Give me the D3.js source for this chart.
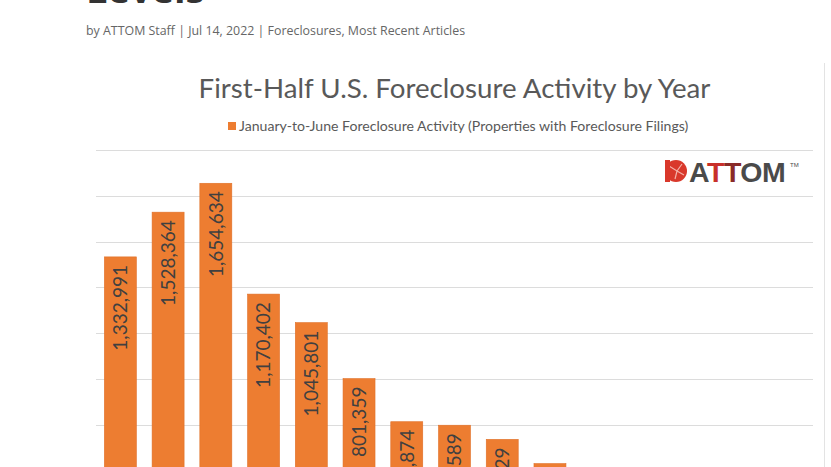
<!DOCTYPE html>
<html>
<head>
<meta charset="utf-8">
<title>First-Half U.S. Foreclosure Activity by Year</title>
<script src="https://cdn.jsdelivr.net/npm/d3@7"></script>
<style>
  html, body { margin: 0; padding: 0; background: #fff; }
  svg { display: block; }
</style>
</head>
<body>
<div id="viz"></div>
<script>
// first-half (Jan-Jun) foreclosure filings, 2008-2022
const years = ["2008", "2009", "2010", "2011", "2012", "2013", "2014", "2015",
               "2016", "2017", "2018", "2019", "2020", "2021", "2022"];
const filings = [1332991, 1528364, 1654634, 1170402, 1045801, 801359, 612874, 597589,
                 535829, 430000, 378000, 302000, 147000, 65000, 164581];
const gridTicks = d3.range(0, 1800001, 200000);

const W = 831, H = 467;
const svg = d3.select("#viz").append("svg")
  .attr("width", W).attr("height", H);

svg.append("rect").attr("width", W).attr("height", H).attr("fill", "#fff");

// page header (cut off at top)
svg.append("text")
  .attr("x", 86).attr("y", 3)
  .attr("font-family", "Open Sans").attr("font-weight", 700)
  .attr("font-size", 38).attr("fill", "#333")
  .text("Levels");

svg.append("text")
  .attr("x", 86).attr("y", 35)
  .attr("font-family", "Open Sans").attr("font-size", 12.4)
  .attr("fill", "#666")
  .text("by ATTOM Staff | Jul 14, 2022 | Foreclosures, Most Recent Articles");

// image frame edge
svg.append("line")
  .attr("x1", 824.5).attr("x2", 824.5).attr("y1", 63).attr("y2", H)
  .attr("stroke", "#e3e3e3");

const x = d3.scaleBand().domain(years).range([96.5, 812.5])
  .paddingInner(0.33).paddingOuter(0.165);
const y = d3.scaleLinear().domain([0, 1800000]).range([562, 150]);

// gridlines
svg.append("g").selectAll("line").data(gridTicks).join("line")
  .attr("x1", 96).attr("x2", 813)
  .attr("y1", d => Math.round(y(d)) + 0.5).attr("y2", d => Math.round(y(d)) + 0.5)
  .attr("stroke", "#dcdcdc");

// title + legend
svg.append("text")
  .attr("x", 454.5).attr("y", 97.5).attr("text-anchor", "middle")
  .attr("font-family", "Lato").attr("font-size", 27.7).attr("fill", "#595959")
  .text("First-Half U.S. Foreclosure Activity by Year");

svg.append("rect").attr("x", 228).attr("y", 122).attr("width", 8).attr("height", 8)
  .attr("fill", "#ed7d31");
svg.append("text")
  .attr("x", 239).attr("y", 131)
  .attr("font-family", "Lato").attr("font-size", 14.1).attr("fill", "#595959")
  .text("January-to-June Foreclosure Activity (Properties with Foreclosure Filings)");

// bars
svg.append("g").selectAll("rect").data(filings).join("rect")
  .attr("x", (d, i) => x(years[i]))
  .attr("y", d => y(d))
  .attr("width", x.bandwidth())
  .attr("height", d => y(0) - y(d))
  .attr("fill", "#ed7d31")
  .attr("stroke", "#e07028").attr("stroke-width", 0.6);

// value labels
const fmt = d3.format(",");
svg.append("g").selectAll("text").data(filings).join("text")
  .attr("transform", (d, i) =>
    `translate(${x(years[i]) + x.bandwidth() / 2},${y(d) + 8}) rotate(-90)`)
  .attr("dy", "0.36em")
  .attr("text-anchor", "end")
  .attr("font-family", "Lato").attr("font-size", 19)
  .attr("fill", "#404040")
  .text(d => fmt(d));

// ATTOM logo
const logo = svg.append("g").attr("transform", "translate(665,160)");
logo.append("circle").attr("cx", 11).attr("cy", 11).attr("r", 11).attr("fill", "#d9382b");
logo.append("path").attr("d", "M4,6 L12,11 L17,4 M12,11 L10,19 M12,11 L19,15")
  .attr("stroke", "#f3b0a8").attr("stroke-width", 1.2).attr("fill", "none");
logo.append("rect").attr("x", 0).attr("y", 0).attr("width", 5).attr("height", 22).attr("fill", "#d9382b");
const word = logo.append("text")
  .attr("x", 24).attr("y", 22)
  .attr("font-family", "Liberation Sans").attr("font-weight", 700)
  .attr("font-size", 28.5).attr("letter-spacing", -0.5);
word.append("tspan").attr("fill", "#4a4a4a").text("A");
word.append("tspan").attr("fill", "#c8302a").text("T");
word.append("tspan").attr("fill", "#8a2b28").text("T");
word.append("tspan").attr("fill", "#4a4a4a").text("OM");
logo.append("text").attr("x", 125).attr("y", 7)
  .attr("font-family", "Liberation Sans").attr("font-size", 6).attr("fill", "#4a4a4a")
  .text("TM");
</script>
</body>
</html>
